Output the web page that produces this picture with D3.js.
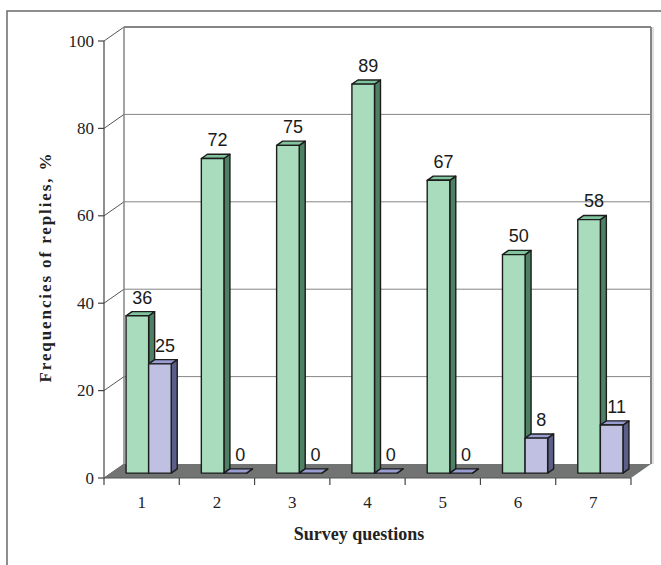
<!DOCTYPE html>
<html>
<head>
<meta charset="utf-8">
<script src="https://cdn.jsdelivr.net/npm/d3@7"></script>
<style>
  html, body { margin: 0; padding: 0; background: #fff; }
  svg { display: block; }
</style>
</head>
<body>
<svg id="chart" width="661" height="565"></svg>
<script>
// Survey results: share of replies per question, two groups
const categories = ["1", "2", "3", "4", "5", "6", "7"];
const seriesA = [36, 72, 75, 89, 67, 50, 58];   // green columns
const seriesB = [25, 0, 0, 0, 0, 8, 11];        // blue columns
const yTicks = [0, 20, 40, 60, 80, 100];
const xTitle = "Survey questions";
const yTitle = "Frequencies of replies, %";

(function () {
const svg = d3.select("#chart");

// front plane of the plot
const plotLeft = 104, plotRight = 631, plotBottom = 478, plotTop = 41;
// oblique depth of the walls
const DX = 20, DY = -14;
// columns sit in the middle of the depth
const fFront = 0.35, fDepth = 0.3;

const x = d3.scaleBand().domain(categories).range([plotLeft, plotRight]);
const y = d3.scaleLinear().domain([0, 100]).range([plotBottom, plotTop]);

const gridColor = "#858585";
const serif = "Liberation Serif, Times New Roman, serif";

// outer frame
svg.append("path")
  .attr("d", "M7,565 L7,11 L661,11")
  .attr("fill", "none").attr("stroke", "#6a6a6a").attr("stroke-width", 1.5);

// back wall gridlines
const g = svg.append("g");
yTicks.forEach(v => {
  const yb = y(v) + DY;
  if (v > 0) {
    g.append("line")
      .attr("x1", plotLeft + DX).attr("x2", plotRight + DX)
      .attr("y1", yb).attr("y2", yb)
      .attr("stroke", gridColor).attr("stroke-width", v === 100 ? 2 : 1);
  }
  // left side wall diagonals
  g.append("line")
    .attr("x1", plotLeft).attr("y1", y(v))
    .attr("x2", plotLeft + DX).attr("y2", yb)
    .attr("stroke", "#555").attr("stroke-width", 1);
});
// back wall vertical edges
g.append("line")
  .attr("x1", plotLeft + DX).attr("x2", plotLeft + DX)
  .attr("y1", y(100) + DY).attr("y2", y(0) + DY)
  .attr("stroke", gridColor).attr("stroke-width", 1.5);
g.append("line")
  .attr("x1", plotRight + DX).attr("x2", plotRight + DX)
  .attr("y1", y(100) + DY).attr("y2", y(0) + DY)
  .attr("stroke", gridColor).attr("stroke-width", 2);
g.append("line")
  .attr("x1", plotRight + DX + 2).attr("x2", plotRight + DX + 2)
  .attr("y1", y(100) + DY).attr("y2", y(0) + DY)
  .attr("stroke", "#d4d4d4").attr("stroke-width", 1.5);

// floor
svg.append("polygon")
  .attr("points", [
    [plotLeft, y(0)], [plotRight, y(0)], [plotRight + DX, y(0) + DY], [plotLeft + DX, y(0) + DY]
  ].map(p => p.join(",")).join(" "))
  .attr("fill", "#727474");

// value axis
svg.append("line")
  .attr("x1", plotLeft).attr("x2", plotLeft).attr("y1", y(100)).attr("y2", y(0))
  .attr("stroke", "#444").attr("stroke-width", 1.2);
yTicks.forEach(v => {
  svg.append("line")
    .attr("x1", plotLeft - 6).attr("x2", plotLeft).attr("y1", y(v)).attr("y2", y(v))
    .attr("stroke", "#444").attr("stroke-width", 1.2);
  svg.append("text")
    .attr("x", plotLeft - 10).attr("y", y(v) + 5.5)
    .attr("text-anchor", "end")
    .attr("font-family", serif)
    .attr("font-size", 17).attr("fill", "#222")
    .text(v);
});

// category axis
svg.append("line")
  .attr("x1", plotLeft).attr("x2", plotRight).attr("y1", y(0)).attr("y2", y(0))
  .attr("stroke", "#555").attr("stroke-width", 1);
const edges = categories.map(c => x(c)).concat([plotRight]);
edges.forEach(ex => {
  svg.append("line")
    .attr("x1", ex).attr("x2", ex).attr("y1", y(0)).attr("y2", y(0) + 7)
    .attr("stroke", "#444").attr("stroke-width", 1.2);
});
categories.forEach(c => {
  svg.append("text")
    .attr("x", x(c) + x.bandwidth() / 2).attr("y", 508)
    .attr("text-anchor", "middle")
    .attr("font-family", serif)
    .attr("font-size", 17).attr("fill", "#222")
    .text(c);
});

// axis titles
svg.append("text")
  .attr("x", 359).attr("y", 540)
  .attr("text-anchor", "middle")
  .attr("font-family", serif)
  .attr("font-weight", "bold").attr("font-size", 18).attr("fill", "#222")
  .text(xTitle);
svg.append("text")
  .attr("transform", "translate(51,267) rotate(-90)")
  .attr("text-anchor", "middle")
  .attr("font-family", serif)
  .attr("font-weight", "bold").attr("font-size", 17).attr("fill", "#222")
  .attr("letter-spacing", 1.9)
  .text(yTitle);

// 3D columns
const w = x.bandwidth() * 0.3;
const ox = DX * fFront, oy = DY * fFront;
const ddx = DX * fDepth, ddy = DY * fDepth;
const palettes = [
  { front: "#a9dcbd", side: "#4e8064", top: "#7fc49c" },
  { front: "#bfc0e2", side: "#5b5e88", top: "#9a9dd2" }
];

const bars = [];
categories.forEach((c, i) => {
  const cx = x(c) + x.bandwidth() / 2 + ox;
  bars.push({ x0: cx - w, v: seriesA[i], pal: palettes[0] });
  bars.push({ x0: cx, v: seriesB[i], pal: palettes[1] });
});

const barG = svg.append("g");
bars.forEach(b => {
  const x0 = b.x0, x1 = b.x0 + w;
  const yb = y(0) + oy, yt = y(b.v) + oy;
  const pts = a => a.map(p => p.join(",")).join(" ");
  const poly = (p, fill) => barG.append("polygon")
    .attr("points", pts(p)).attr("fill", fill)
    .attr("stroke", "#1c1c1c").attr("stroke-width", 1.4)
    .attr("stroke-linejoin", "round");
  // side face
  poly([[x1, yb], [x1 + ddx, yb + ddy], [x1 + ddx, yt + ddy], [x1, yt]], b.pal.side);
  // top face
  poly([[x0, yt], [x1, yt], [x1 + ddx, yt + ddy], [x0 + ddx, yt + ddy]], b.pal.top);
  // front face
  if (b.v > 0) poly([[x0, yb], [x1, yb], [x1, yt], [x0, yt]], b.pal.front);
  // value label
  barG.append("text")
    .attr("x", x0 + w / 2 + 5).attr("y", yt + ddy - 8)
    .attr("text-anchor", "middle")
    .attr("font-family", "Liberation Sans, Arial, sans-serif")
    .attr("font-size", 18).attr("fill", "#1a1a1a")
    .text(b.v);
});
})();
</script>
</body>
</html>
